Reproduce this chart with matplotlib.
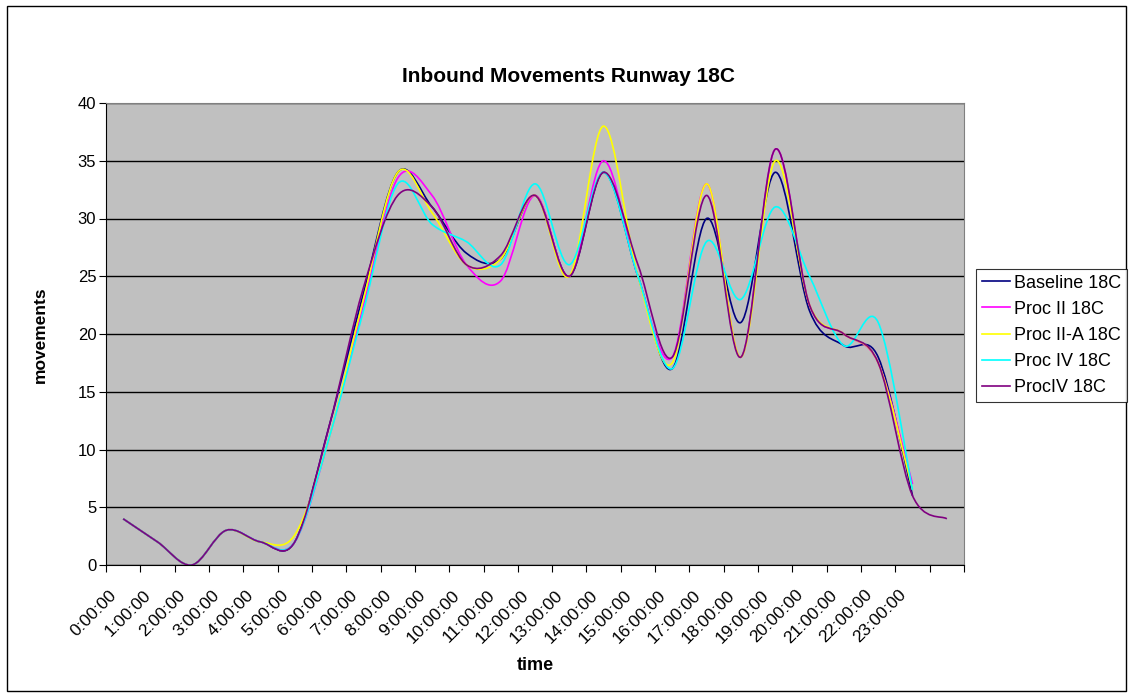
import numpy as np
import matplotlib
matplotlib.use('Agg')
import matplotlib.pyplot as plt
import matplotlib.transforms as mtransforms
from matplotlib.path import Path
from matplotlib.patches import PathPatch, Rectangle
from matplotlib.lines import Line2D

plt.rcParams['font.family'] = ['Liberation Sans', 'DejaVu Sans']

hours = ['%d:00:00' % h for h in range(24)] + ['']

baseline = [4, 2, 0, 3, 2, 2, 12, 23.5, 34, 31, 27, 26.5, 32, 25, 34, 25, 17, 30, 21, 34, 22, 19, 18, 6]
proc2 = [4, 2, 0, 3, 2, 2, 11, 22.5, 33.5, 32, 26, 24.6, 32, 25, 35, 25, 18, 33, 18, 36, 22.5, 20, 17.5, 7]
proc2a = [4, 2, 0, 3, 2, 2.6, 11, 23, 34, 30.5, 26, 26.5, 32, 25, 38, 25, 17.5, 33, 18, 35, 22.5, 20, 17.5, 6.5]
proc4 = [4, 2, 0, 3, 2, 2, 11, 22, 33, 29.5, 28, 26, 33, 26, 34, 25, 17, 28, 23, 31, 25, 19, 21, 6.5]
procIV = [4, 2, 0, 3, 2, 2, 12, 24, 32, 31, 26, 26.8, 32, 25, 34, 26, 18, 32, 18, 36, 22.5, 20, 17.5, 6, 4]

series = [
    ('Baseline 18C', baseline, '#000080'),
    ('Proc II 18C', proc2, '#FF00FF'),
    ('Proc II-A 18C', proc2a, '#FFFF00'),
    ('Proc IV 18C', proc4, '#00FFFF'),
    ('ProcIV 18C', procIV, '#800080'),
]


def smooth_path(vals):
    # excel-like smoothed line: cubic bezier through every point
    x = np.arange(len(vals)) + 0.5
    y = np.array(vals, dtype=float)
    n = len(y)
    verts = [(x[0], y[0])]
    codes = [Path.MOVETO]
    for i in range(n - 1):
        xp, yp = (x[i - 1], y[i - 1]) if i > 0 else (x[i], y[i])
        xn, yn = (x[i + 2], y[i + 2]) if i + 2 < n else (x[i + 1], y[i + 1])
        c1 = (x[i] + (x[i + 1] - xp) / 6, y[i] + (y[i + 1] - yp) / 6)
        c2 = (x[i + 1] - (xn - x[i]) / 6, y[i + 1] - (yn - y[i]) / 6)
        verts += [c1, c2, (x[i + 1], y[i + 1])]
        codes += [Path.CURVE4] * 3
    return Path(verts, codes)


fig = plt.figure(figsize=(11.33, 6.98), dpi=100)
fig.patch.set_facecolor('white')
fig.patches.append(Rectangle((7 / 1133, 1 - 691 / 698), 1119 / 1133, 685 / 698,
                             transform=fig.transFigure, fill=False,
                             edgecolor='black', lw=1))

ax = fig.add_axes([106 / 1133, 1 - 565 / 698, 858 / 1133, 462 / 698])
ax.set_facecolor('#C0C0C0')
for s in ax.spines.values():
    s.set_color('#808080')
ax.spines['left'].set_color('black')
ax.spines['bottom'].set_color('black')

ax.set_xlim(0, 25)
ax.set_ylim(0, 40)
ax.set_yticks(range(0, 41, 5))
ax.yaxis.grid(True, color='black', lw=1)
ax.set_axisbelow(True)

ax.set_xticks(range(26))
ax.set_xticklabels([])
ax.set_xticks(np.arange(25) + 0.5, minor=True)
ax.set_xticklabels(hours, minor=True, rotation=45, ha='right', va='top',
                   rotation_mode='anchor', fontsize=12.5)
ax.tick_params(axis='x', which='minor', length=0, pad=16)
ax.tick_params(axis='x', which='major', length=5, direction='out', color='black')
ax.tick_params(axis='y', length=5, direction='out', labelsize=12, pad=2)
shift = mtransforms.ScaledTranslation(-14 / 100, 0, fig.dpi_scale_trans)
for lab in ax.get_xticklabels(minor=True):
    lab.set_transform(lab.get_transform() + shift)

handles = []
for name, vals, col in series:
    ax.add_patch(PathPatch(smooth_path(vals), fill=False, edgecolor=col, lw=1.2))
    handles.append(Line2D([], [], color=col, lw=1.2, label=name))

fig.text(569 / 1133, 1 - 76 / 698, 'Inbound Movements Runway 18C', fontsize=15,
         fontweight='bold', ha='center', va='center')
fig.text(535 / 1133, 1 - 666 / 698, 'time', fontsize=13, fontweight='bold',
         ha='center', va='center')
fig.text(40 / 1133, 1 - 335 / 698, 'movements', fontsize=12.5, fontweight='bold',
         ha='center', va='center', rotation=90)

leg = fig.legend(handles=handles, loc='upper left',
                 bbox_to_anchor=(976 / 1133, 1 - 269 / 698),
                 fontsize=13, frameon=True, fancybox=False,
                 handlelength=1.55, handletextpad=0.26, labelspacing=0.5,
                 borderpad=0.32, borderaxespad=0)
leg.get_frame().set_edgecolor('black')
leg.get_frame().set_linewidth(0.8)

fig.savefig('out.png', dpi=100)
